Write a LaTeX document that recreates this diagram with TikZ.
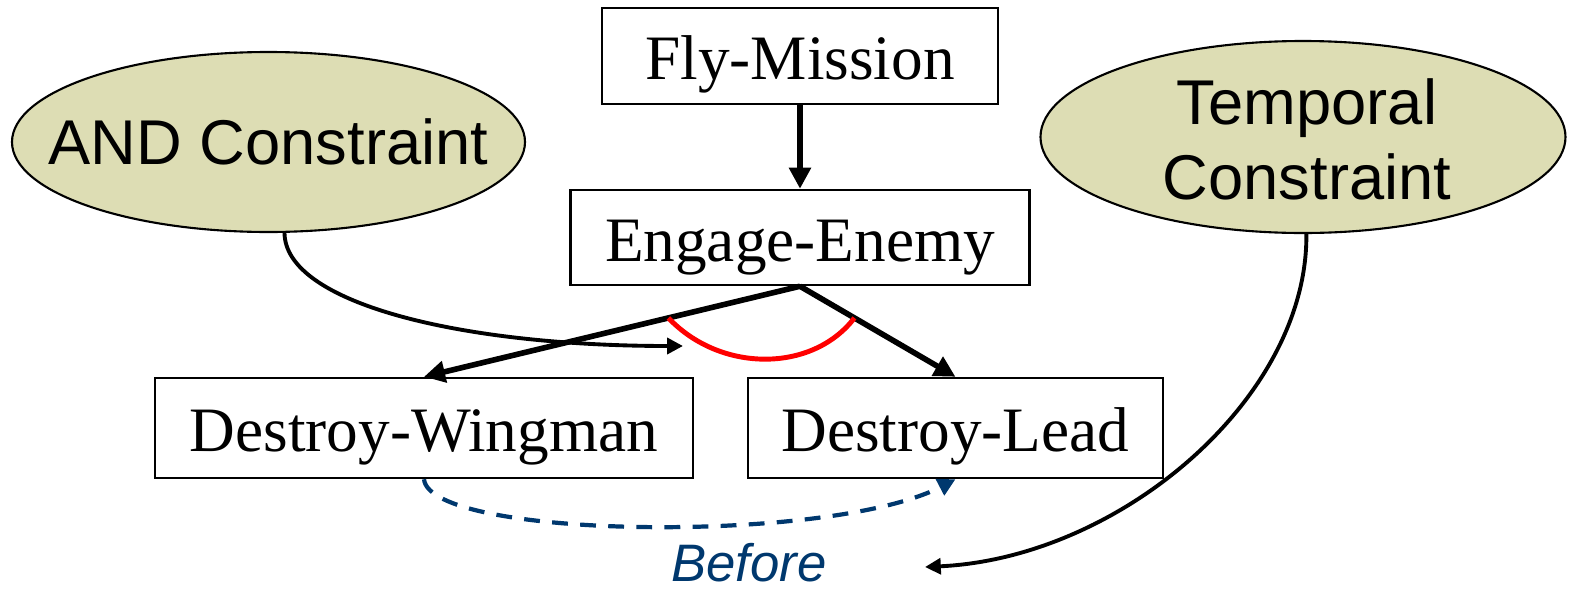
\documentclass[tikz,border=0pt]{standalone}
\usepackage{fontspec}
\setmainfont{Liberation Serif}
\setsansfont{Liberation Sans}
\usetikzlibrary{arrows.meta, shapes.geometric, positioning}
\definecolor{constraintfill}{RGB}{221,221,180}
\definecolor{beforeblue}{RGB}{0,56,110}

\begin{document}
\begin{tikzpicture}[
    % Define the style of the task boxes
    task/.style={rectangle, draw, line width=0.7pt, inner sep=0pt, text height=13.6pt, text depth=0pt, font=\fontsize{18}{21}\selectfont},
    % Define the style of the constraint ellipses
    constraint/.style={ellipse, draw, line width=0.6pt, fill=constraintfill},
    % Define the style of the text inside the ellipses
    constrainttext/.style={align=center, font=\sffamily\fontsize{18}{21.3}\selectfont},
    % Define the style of the decomposition arrows
    arrow/.style={-{Triangle[length=6pt,width=6pt]}, line width=1.6pt},
    % Define the style of the constraint links
    link/.style={-{Triangle[length=4.5pt,width=4.5pt]}, line width=1.1pt},
    % Define the style of the ordering link
    orderlink/.style={-{Triangle[length=5pt,width=5pt]}, line width=1.2pt, dash pattern=on 4.5pt off 3.5pt, draw=beforeblue},
    % Define the style of the AND arc
    andarc/.style={red, line width=1.4pt}
    ]
    \useasboundingbox (0,0) rectangle (15.69,5.88);

    % Task boxes
    \node[task, minimum width=3.96cm, minimum height=0.96cm] (fly) at (8.00, 5.32) {Fly-Mission};
    \node[task, minimum width=4.59cm, minimum height=0.95cm] (engage) at (8.00, 3.505) {Engage-Enemy};
    \node[task, minimum width=5.38cm, minimum height=1.00cm] (wingman) at (4.24, 1.60) {Destroy-Wingman};
    \node[task, minimum width=4.15cm, minimum height=1.00cm] (lead) at (9.555, 1.60) {Destroy-Lead};

    % Constraint ellipses
    \node[constraint, minimum width=5.13cm, minimum height=1.80cm] (andc) at (2.685, 4.46) {};
    \node[constrainttext] (andlabel) at (andc) {AND Constraint};
    \node[constraint, minimum width=5.25cm, minimum height=1.92cm] (tempc) at (13.03, 4.51) {};
    \node[constrainttext] (templabel) at (13.07, 4.49) {Temporal\\Constraint};

    % Decomposition
    \draw[arrow] (fly) -- (engage);
    \foreach \t in {wingman, lead} {
      \draw[arrow] (engage.south) -- (\t.north);
    }

    % AND arc across the two subtasks
    \path (engage.south) -- (wingman.north) coordinate[pos=0.35] (andleft);
    \path (engage.south) -- (lead.north) coordinate[pos=0.35] (andright);
    \draw[andarc] (andleft) .. controls +(0.52,-0.55) and +(-0.42,-0.55) .. (andright);

    % Constraint links
    \coordinate (andtip) at (6.83, 2.42);
    \coordinate (temptip) at (9.25, 0.21);
    \draw[link] (andc.-80) .. controls (2.85, 2.85) and (4.6, 2.42) .. (andtip);
    \draw[link] (tempc.-88) .. controls (13.08, 1.9) and (11.2, 0.3) .. (temptip);

    % Ordering between the subtasks
    \draw[orderlink] (wingman.south) .. controls +(0.06,-0.6) and +(-1.25,-0.65) .. (lead.south);
    \node[anchor=base, text=beforeblue, font=\sffamily\itshape\fontsize{15}{18}\selectfont] (before) at (7.49, 0.07) {Before};
\end{tikzpicture}
\end{document}
